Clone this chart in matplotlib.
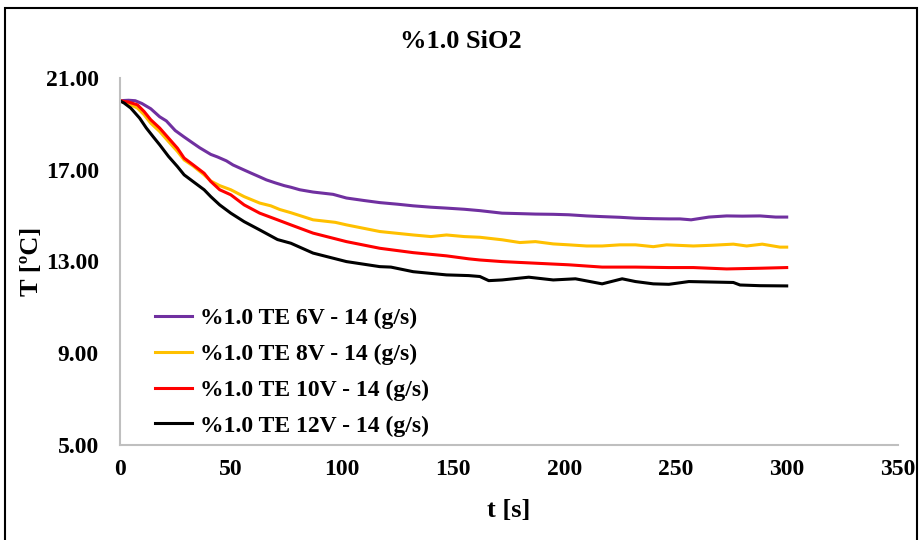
import matplotlib
matplotlib.use("Agg")
from matplotlib import pyplot as plt
from matplotlib.patches import Rectangle

plt.rcParams['font.family'] = ['Liberation Serif', 'DejaVu Serif']
plt.rcParams['font.weight'] = 'bold'

title = "%1.0 SiO2"
labels = ["%1.0 TE 6V - 14 (g/s)", "%1.0 TE 8V - 14 (g/s)",
          "%1.0 TE 10V - 14 (g/s)", "%1.0 TE 12V - 14 (g/s)"]
colors = ["#7030A0", "#FFC000", "#FF0000", "#000000"]

t_6v = [0, 4, 7, 10, 14, 18, 21, 25, 29, 33, 36, 41, 44, 48, 51, 56, 59, 63, 66, 70,
        74, 77, 81, 87, 96, 102, 110, 117, 125, 132, 140, 147, 155, 162, 172, 180, 187,
        195, 202, 210, 217, 225, 232, 240, 247, 252, 257, 265, 273, 280, 288, 295, 300]
T_6v = [20.0, 20.02, 20.0, 19.88, 19.65, 19.3, 19.12, 18.7, 18.42, 18.15, 17.95, 17.66,
        17.55, 17.38, 17.2, 16.98, 16.85, 16.68, 16.55, 16.42, 16.3, 16.23, 16.12, 16.02,
        15.92, 15.76, 15.65, 15.56, 15.49, 15.42, 15.36, 15.32, 15.27, 15.21, 15.10, 15.08,
        15.06, 15.05, 15.03, 14.98, 14.95, 14.92, 14.88, 14.86, 14.85, 14.85, 14.81, 14.93,
        14.98, 14.97, 14.98, 14.93, 14.93]

t_8v = [0, 3, 8, 11, 14, 18, 22, 26, 29, 33, 38, 41, 45, 50, 56, 63, 68, 72, 77, 87, 97,
        102, 117, 132, 140, 147, 155, 162, 172, 180, 187, 195, 202, 210, 217, 225, 232,
        240, 246, 258, 266, 276, 282, 289, 297, 300]
T_8v = [20.0, 19.92, 19.68, 19.39, 19.02, 18.66, 18.22, 17.79, 17.42, 17.16, 16.77, 16.5,
        16.3, 16.12, 15.82, 15.54, 15.42, 15.26, 15.12, 14.81, 14.7, 14.59, 14.3, 14.15,
        14.08, 14.15, 14.08, 14.05, 13.94, 13.82, 13.86, 13.76, 13.72, 13.67, 13.67, 13.72,
        13.72, 13.64, 13.72, 13.67, 13.7, 13.75, 13.67, 13.75, 13.62, 13.62]

t_10v = [0, 4, 8, 11, 14, 18, 22, 26, 29, 33, 38, 41, 45, 50, 56, 63, 71, 77, 87, 102,
         117, 132, 147, 157, 162, 172, 187, 202, 217, 232, 247, 258, 273, 288, 300]
T_10v = [20.0, 19.94, 19.82, 19.53, 19.17, 18.81, 18.37, 17.93, 17.5, 17.21, 16.84, 16.48,
         16.12, 15.9, 15.46, 15.1, 14.81, 14.59, 14.23, 13.86, 13.57, 13.38, 13.24, 13.11,
         13.06, 12.99, 12.92, 12.85, 12.75, 12.75, 12.73, 12.73, 12.67, 12.70, 12.73]

t_12v = [0, 2, 5, 9, 12, 15, 18, 22, 26, 29, 33, 38, 41, 45, 50, 56, 63, 71, 77, 87, 102,
         117, 122, 132, 147, 157, 162, 166, 172, 184, 195, 205, 217, 226, 232, 240, 247,
         256, 266, 276, 279, 288, 300]
T_12v = [20.0, 19.9, 19.68, 19.24, 18.81, 18.44, 18.08, 17.57, 17.13, 16.77, 16.48, 16.12,
         15.82, 15.46, 15.1, 14.73, 14.37, 13.95, 13.79, 13.36, 12.99, 12.77, 12.75, 12.55,
         12.41, 12.38, 12.34, 12.16, 12.19, 12.31, 12.19, 12.24, 12.02, 12.24, 12.12, 12.02,
         12.0, 12.12, 12.1, 12.08, 11.97, 11.94, 11.93]

xticks = [0, 50, 100, 150, 200, 250, 300, 350]
yticks = [5, 9, 13, 17, 21]

series = [(t_6v, T_6v), (t_8v, T_8v), (t_10v, T_10v), (t_12v, T_12v)]

fig = plt.figure(figsize=(9.21, 5.4), dpi=100)
ax = fig.add_axes([0.1299, 0.176, 0.845, 0.68])

for (t, T), c, lab in zip(series, colors, labels):
    ax.plot(t, T, color=c, lw=2.2, label=lab)

ax.set_xlim(0, 350)
ax.set_ylim(5, 21)
ax.set_xticks(xticks)
ax.set_yticks(yticks)
ax.set_yticklabels([f"{v:.2f}" for v in yticks])
ax.tick_params(length=0, labelsize=17)
ax.tick_params(axis='x', pad=10)
ax.tick_params(axis='y', pad=15)
for s in ['top', 'right']:
    ax.spines[s].set_visible(False)
for s in ['left', 'bottom']:
    ax.spines[s].set_color('#bfbfbf')
    ax.spines[s].set_linewidth(1.5)

ax.set_xlabel("t [s]", fontsize=19, fontweight='bold', labelpad=14)
ax.set_ylabel("T [ºC]", fontsize=19, fontweight='bold', labelpad=2)
fig.text(0.5, 0.924, title, ha='center', va='center', fontsize=19, fontweight='bold')

ax.legend(loc='lower left', bbox_to_anchor=(0.018, -0.035), frameon=False, fontsize=17,
          handlelength=1.57, handletextpad=0.34, labelspacing=0.6)

fig.add_artist(Rectangle((5 / 921, -0.01), 912 / 921, 1 - 8 / 540 + 0.01,
                         transform=fig.transFigure, fill=False, edgecolor='black', lw=1.5))

fig.savefig("out.png", dpi=100)
